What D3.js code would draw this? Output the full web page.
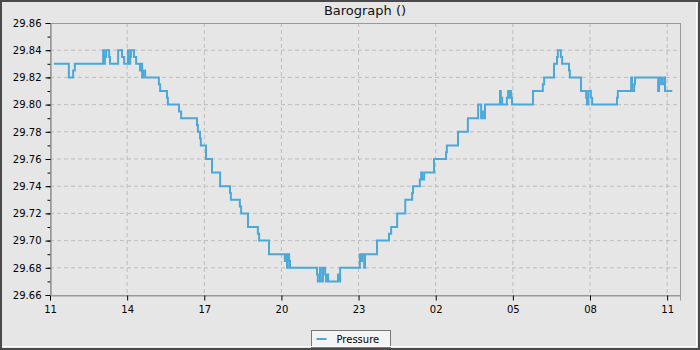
<!DOCTYPE html>
<html>
<head>
<meta charset="utf-8">
<script src="https://cdn.jsdelivr.net/npm/d3@7"></script>
<style>
  html, body { margin: 0; padding: 0; background: #e6e6e6; }
  svg { display: block; font-family: "DejaVu Sans", sans-serif; }
</style>
</head>
<body>
<script>
const chartTitle = "Barograph ()";
const seriesName = "Pressure";
const startDay = "2024-03-09";
const axisStart = "2024-03-09 11:00", axisEnd = "2024-03-10 11:30";
const yDomain = [29.66, 29.86];

// readings (HH:MM, wraps past midnight into the next day)
const times = [
  "11:09", "11:44", "11:54", "11:58", "13:04", "13:06", "13:08", "13:11", "13:18", "13:20",
  "13:39", "13:48", "13:53", "14:02", "14:04", "14:07", "14:09", "14:16", "14:21", "14:30",
  "14:32", "14:35", "14:37", "14:42", "15:14", "15:17", "15:33", "15:35", "16:01", "16:06",
  "16:43", "16:45", "16:50", "16:52", "17:04", "17:18", "17:37", "18:00", "18:02", "18:23",
  "18:26", "18:42", "19:05", "19:08", "19:31", "20:08", "20:11", "20:13", "20:15", "20:18",
  "20:20", "21:23", "21:25", "21:30", "21:32", "21:37", "21:42", "21:44", "21:46", "21:49",
  "22:12", "22:14", "22:17", "23:03", "23:06", "23:08", "23:13", "23:15", "23:43", "00:11",
  "00:16", "00:30", "00:49", "01:05", "01:07", "01:23", "01:26", "01:28", "01:33", "01:56",
  "02:24", "02:26", "02:52", "03:15", "03:39", "03:46", "03:48", "03:53", "03:55", "04:30",
  "04:32", "04:35", "04:46", "04:49", "04:51", "04:53", "04:56", "04:58", "05:47", "06:10",
  "06:13", "06:36", "06:43", "06:45", "06:52", "06:55", "07:11", "07:13", "07:39", "07:51",
  "07:53", "07:56", "08:02", "08:05", "09:03", "09:05", "09:36", "09:38", "09:43", "09:45",
  "10:39", "10:41", "10:43", "10:48", "10:53", "10:55", "11:12"
];
const pressure = [
  29.83, 29.82, 29.825, 29.83, 29.84, 29.83, 29.835, 29.84, 29.835, 29.83,
  29.84, 29.835, 29.83, 29.84, 29.83, 29.835, 29.84, 29.835, 29.83, 29.825,
  29.83, 29.82, 29.825, 29.82, 29.815, 29.81, 29.805, 29.80, 29.795, 29.79,
  29.785, 29.78, 29.775, 29.77, 29.76, 29.75, 29.74, 29.735, 29.73, 29.725,
  29.72, 29.71, 29.705, 29.70, 29.69, 29.685, 29.69, 29.68, 29.69, 29.685,
  29.68, 29.675, 29.67, 29.68, 29.67, 29.68, 29.675, 29.67, 29.675, 29.67,
  29.675, 29.67, 29.68, 29.69, 29.685, 29.69, 29.68, 29.69, 29.70, 29.705,
  29.71, 29.72, 29.73, 29.735, 29.74, 29.745, 29.75, 29.745, 29.75, 29.76,
  29.765, 29.77, 29.78, 29.79, 29.80, 29.79, 29.795, 29.79, 29.80, 29.81,
  29.805, 29.80, 29.805, 29.81, 29.805, 29.81, 29.805, 29.80, 29.81, 29.815,
  29.82, 29.83, 29.835, 29.84, 29.835, 29.83, 29.825, 29.82, 29.81, 29.805,
  29.80, 29.81, 29.805, 29.80, 29.805, 29.81, 29.82, 29.81, 29.815, 29.82,
  29.81, 29.815, 29.82, 29.815, 29.82, 29.81, 29.81
];

function drawChart() {
    const W = 700, H = 350;
    const margin = { top: 23, right: 20, bottom: 55, left: 50 };
    const width = W - margin.left - margin.right;
    const height = H - margin.top - margin.bottom;

    const parse = d3.timeParse("%Y-%m-%d %H:%M");
    let day = parse(startDay + " 00:00");
    let prev = null;
    const data = times.map((t, i) => {
        let d = parse(d3.timeFormat("%Y-%m-%d")(day) + " " + t);
        if (prev && d < prev) {
            day = d3.timeDay.offset(day, 1);
            d = d3.timeDay.offset(d, 1);
        }
        prev = d;
        return { time: d, value: pressure[i] };
    });

    const x = d3.scaleTime()
        .domain([parse(axisStart), parse(axisEnd)])
        .range([0, width]);
    const y = d3.scaleLinear()
        .domain(yDomain)
        .range([height, 0]);

    const svg = d3.create("svg")
        .attr("width", W)
        .attr("height", H)
        .attr("viewBox", `0 0 ${W} ${H}`);

    svg.append("rect").attr("width", W).attr("height", H).attr("fill", "#e6e6e6");

    // title
    svg.append("text")
        .attr("x", margin.left + width / 2)
        .attr("y", 15)
        .attr("text-anchor", "middle")
        .attr("font-size", 13)
        .attr("fill", "#111")
        .text(chartTitle);

    const g = svg.append("g")
        .attr("transform", `translate(${margin.left},${margin.top})`);

    const majorX = d3.timeHour.range(x.domain()[0], x.domain()[1], 3);
    const minorX = d3.timeHour.range(x.domain()[0], x.domain()[1]);
    const majorY = d3.range(0, 11).map(i => +(yDomain[0] + i * 0.02).toFixed(2));
    const minorY = d3.range(0, 20).map(i => +(yDomain[0] + 0.01 + i * 0.01).toFixed(2));

    // grid
    g.append("g")
        .selectAll("line")
        .data(majorX.slice(1))
        .join("line")
        .attr("x1", d => x(d)).attr("x2", d => x(d))
        .attr("y1", 0).attr("y2", height)
        .attr("stroke", "#bdbdbd")
        .attr("stroke-dasharray", "4,3");
    g.append("g")
        .selectAll("line")
        .data(majorY.slice(1, -1))
        .join("line")
        .attr("x1", 0).attr("x2", width)
        .attr("y1", d => y(d)).attr("y2", d => y(d))
        .attr("stroke", "#bdbdbd")
        .attr("stroke-dasharray", "4,3");

    // plot frame
    g.append("rect")
        .attr("x", 0.5).attr("y", 0.5)
        .attr("width", width).attr("height", height)
        .attr("fill", "none")
        .attr("stroke", "#999");

    // axes
    const gx = g.append("g")
        .attr("transform", `translate(0,${height + 0.5})`);
    gx.call(d3.axisBottom(x).tickValues(minorX).tickSize(3).tickFormat(""));
    gx.call(d3.axisBottom(x).tickValues(majorX).tickSize(5).tickPadding(5)
        .tickFormat(d3.timeFormat("%H")));
    gx.selectAll(".domain").attr("stroke", "#999");
    gx.selectAll(".tick line").attr("stroke", "#000");
    gx.selectAll("text").attr("font-size", 10).attr("font-family", "DejaVu Sans").attr("fill", "#000");

    const gy = g.append("g").attr("transform", "translate(0.5,0)");
    gy.append("g").call(d3.axisLeft(y).tickValues(minorY).tickSize(3).tickFormat(""));
    gy.append("g").call(d3.axisLeft(y).tickValues(majorY).tickSize(5).tickPadding(4)
        .tickFormat(d3.format(".2f")));
    gy.selectAll(".domain").attr("stroke", "#999");
    gy.selectAll(".tick line").attr("stroke", "#000");
    gy.selectAll("text").attr("font-size", 10).attr("font-family", "DejaVu Sans").attr("fill", "#000");

    // pressure line
    const line = d3.line()
        .x(d => x(d.time))
        .y(d => y(d.value))
        .curve(d3.curveStepAfter);
    g.append("path")
        .datum(data)
        .attr("fill", "none")
        .attr("stroke", "#4aa8da")
        .attr("stroke-width", 2)
        .attr("d", line);

    // legend
    const lg = svg.append("g").attr("transform", "translate(311.5,330.5)");
    lg.append("rect")
        .attr("width", 79).attr("height", 17)
        .attr("fill", "#f4f4f4")
        .attr("stroke", "#777");
    lg.append("line")
        .attr("x1", 5).attr("x2", 15)
        .attr("y1", 8.5).attr("y2", 8.5)
        .attr("stroke", "#4aa8da")
        .attr("stroke-width", 2);
    lg.append("text")
        .attr("x", 25).attr("y", 12)
        .attr("font-size", 10)
        .attr("fill", "#000")
        .text(seriesName);

    // outer frame
    svg.append("rect")
        .attr("x", 1).attr("y", 1)
        .attr("width", W - 2).attr("height", H - 2)
        .attr("fill", "none")
        .attr("stroke", "#4a4a4a")
        .attr("stroke-width", 2);
    svg.append("path")
        .attr("d", `M2,${H - 3.5}H${W - 3.5}V2`)
        .attr("fill", "none")
        .attr("stroke", "#fff");

    document.body.append(svg.node());
}

drawChart();
</script>
</body>
</html>
